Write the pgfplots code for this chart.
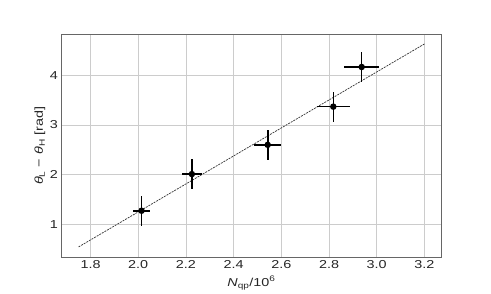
\documentclass[border=0pt]{standalone}
\usepackage{fontspec}
\setmainfont[FakeStretch=1.25]{Liberation Sans}
\usepackage{pgfplots}
\pgfplotsset{compat=1.18}
\begin{document}
\begin{tikzpicture}[x=1pt,y=1pt]
\begin{axis}[
  name=ax,
  at={(61.3pt,37pt)}, anchor=south west,
  scale only axis, width=380.4pt, height=222.7pt,
  xmin=1.6775, xmax=3.2725, ymin=0.337, ymax=4.83,
  xtick={1.8,2.0,2.2,2.4,2.6,2.8,3.0,3.2},
  ytick={1,2,3,4},
  x tick label style={/pgf/number format/fixed, /pgf/number format/fixed zerofill, /pgf/number format/precision=1},
  /pgf/number format/assume math mode=true,
  tick style={draw=none},
  grid=major,
  major grid style={color=black!20, line width=0.8pt},
  axis line style={color=black!60, line width=0.9pt},
  ticklabel style={font=\fontsize{11.5}{13}\selectfont, color=black!85},
  xlabel={\textit{N}\textsubscript{qp}/10\textsuperscript{6}},
  ylabel={\textit{θ}\textsubscript{L} − \textit{θ}\textsubscript{H} [rad]},
  label style={font=\fontsize{11.5}{13}\selectfont, color=black!85},
  xlabel style={at={(axis description cs:0.5,-0.117)}, anchor=center},
  ylabel style={at={(axis description cs:-0.056,0.5)}, anchor=center},
]
\addplot[black!80, line width=0.7pt, dash pattern=on 2pt off 1pt] coordinates {(1.75,0.54) (3.2,4.635)};
\addplot[black, only marks, mark=*, mark size=2.4pt, line width=1.6pt,
  error bars/.cd, x dir=both, x explicit, y dir=both, y explicit,
  error mark=none, error bar style={line width=1.6pt, black}]
  coordinates {
  (2.014,1.27) +- (0.036,0.30)
  (2.225,2.01) +- (0.043,0.30)
  (2.543,2.60) +- (0.056,0.30)
  (2.818,3.37) +- (0.069,0.30)
  (2.937,4.17) +- (0.074,0.30)
  };
\end{axis}
\path (0,0) rectangle (491pt,294pt);
\end{tikzpicture}
\end{document}
